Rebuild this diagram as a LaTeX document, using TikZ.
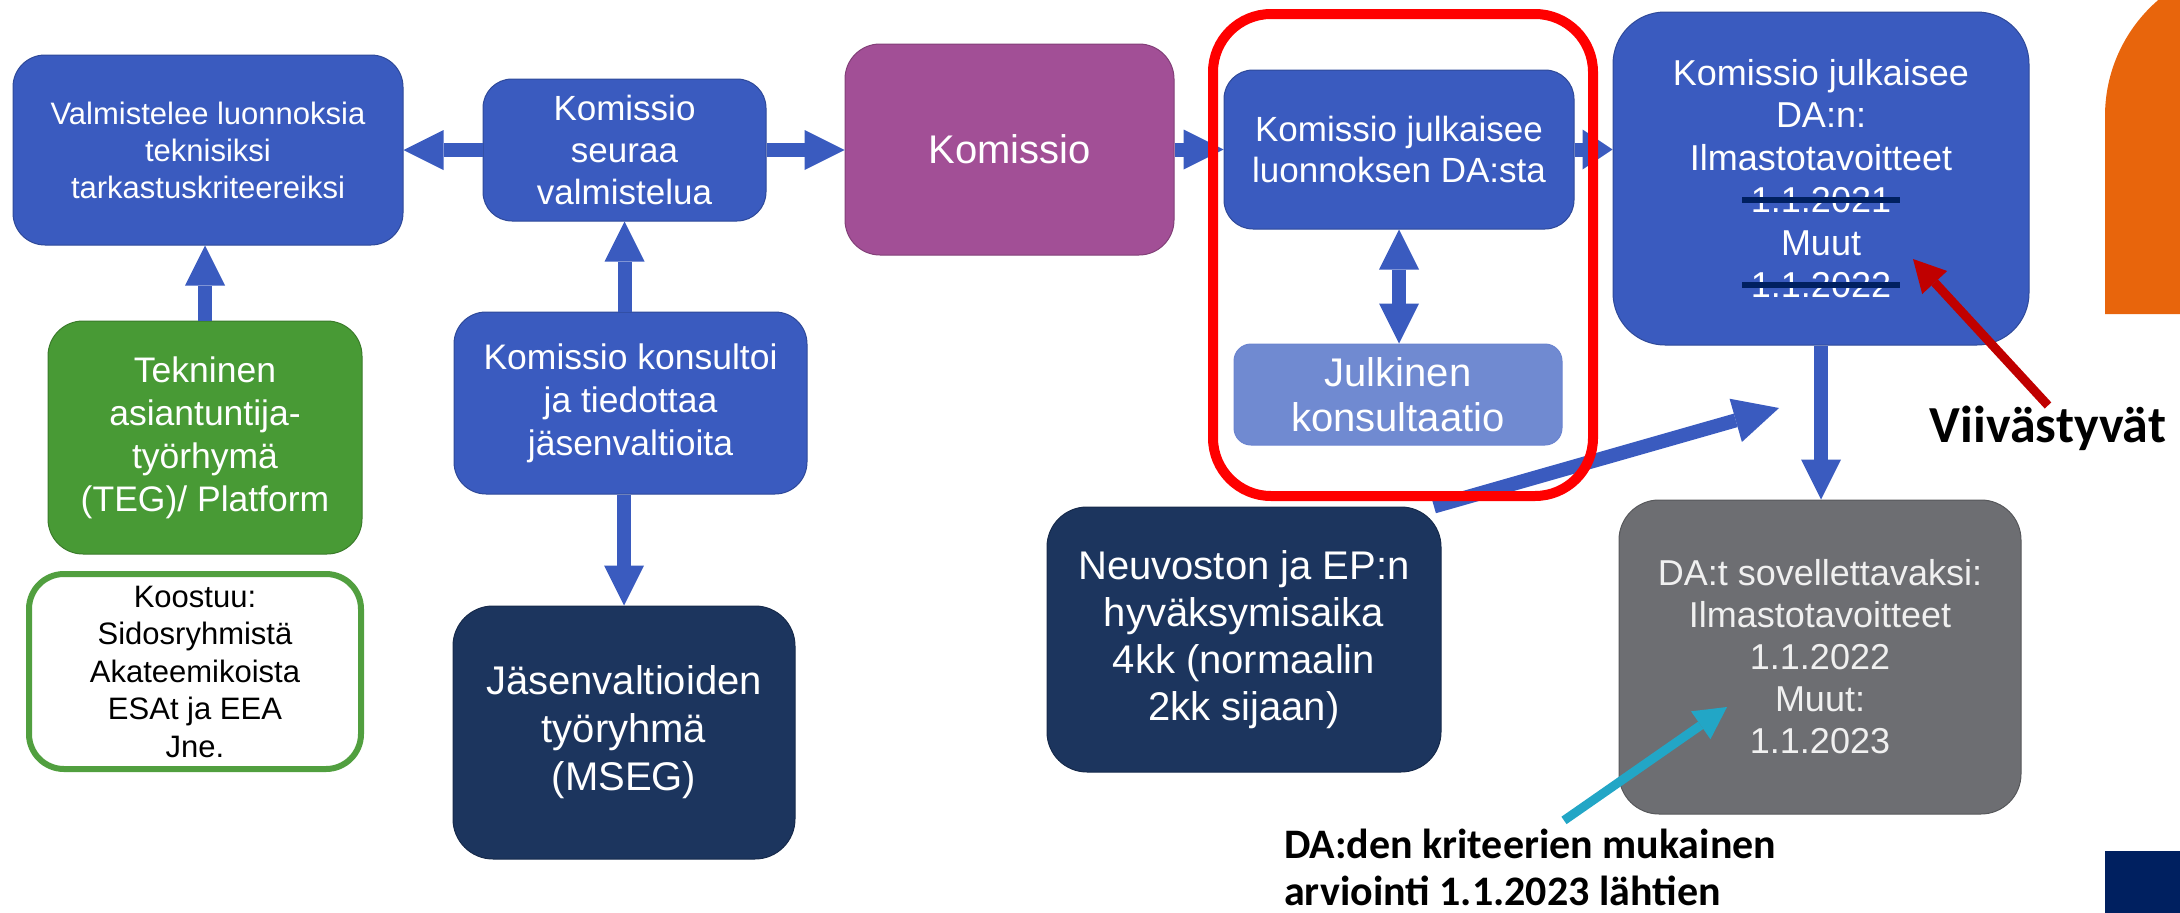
\documentclass[tikz,border=0pt]{standalone}
\usepackage{fontspec}
\setmainfont{Liberation Sans}
\newfontfamily\calibri{Carlito}
\usepackage{tikz}
\usetikzlibrary{arrows.meta,backgrounds}
\definecolor{boxblue}{HTML}{3A5BBF}
\definecolor{lightblue}{HTML}{708AD1}
\definecolor{komviolet}{HTML}{A24F96}
\definecolor{teggreen}{HTML}{489A35}
\definecolor{msegnavy}{HTML}{1C355E}
\definecolor{dagray}{HTML}{6D6E72}
\definecolor{framered}{HTML}{FF0000}
\definecolor{delayred}{HTML}{C00000}
\definecolor{evalcyan}{HTML}{22A6C6}
\definecolor{cornerorange}{HTML}{E8650C}
\definecolor{strikenavy}{HTML}{002060}
\newsavebox\strikebox
\newcommand\strikedate[1]{%
  \sbox\strikebox{#1}%
  \rlap{\usebox\strikebox}%
  \makebox[\wd\strikebox]{\makebox[0pt]{\textcolor{strikenavy}{\rule[0.28em]{\dimexpr\wd\strikebox+18pt\relax}{6pt}}}}}

\begin{document}
\begin{tikzpicture}[x=1pt,y=-1pt,
    flowbox/.style={rectangle,rounded corners=#1,align=center,inner sep=0pt,text=white,line width=1pt},
    flowbox/.default=32pt,
    bluebox/.style={flowbox=#1,fill=boxblue,draw=boxblue!80!black},
    bluebox/.default=32pt,
    blockarrow/.style={draw=boxblue,line width=14pt,-{Triangle[length=40pt,width=40pt,line width=0pt]}},
    notearrow/.style={line width=9pt,-{Triangle[length=32pt,width=34pt,line width=0pt]}},
    note/.style={font=\calibri\bfseries\fontsize{42}{47}\selectfont,inner sep=0pt}]
  \useasboundingbox (0,0) rectangle (2180,913);
  \clip (0,0) rectangle (2180,913);
  % corner decorations
  \fill[cornerorange] (2105,314) -- (2105,116) arc[start angle=180,end angle=270,radius=153] -- (2258,314) -- cycle;
  \fill[strikenavy] (2105,851) rectangle (2180,913);
  % left column
  \node (valm) at (208,150) [bluebox, minimum width=390pt, minimum height=190pt, font=\fontsize{31}{37}\selectfont] {Valmistelee luonnoksia\\teknisiksi\\tarkastuskriteereiksi};
  \node (teg) at (205,437.5) [flowbox=35pt, fill=teggreen, draw=teggreen!80!black, minimum width=314pt, minimum height=233pt, font=\fontsize{35.5}{43}\selectfont] {Tekninen\\asiantuntija-\\työrhymä\\(TEG)/ Platform};
  \node (koostuu) at (195,671.5) [flowbox=35pt, fill=white, draw=teggreen!95!white, line width=6pt, text=black, minimum width=332pt, minimum height=195pt, font=\fontsize{31}{37.5}\selectfont] {Koostuu:\\Sidosryhmistä\\Akateemikoista\\ESAt ja EEA\\Jne.};
  % middle column
  \node (seuraa) at (624.5,150) [bluebox=29pt, minimum width=283pt, minimum height=142pt, font=\fontsize{35}{42}\selectfont] {Komissio\\seuraa\\valmistelua};
  \node (konsult) at (630.5,403) [bluebox, minimum width=353pt, minimum height=182pt, font=\fontsize{35.5}{43}\selectfont] {Komissio konsultoi\\ja tiedottaa\\jäsenvaltioita};
  \node (mseg) at (624,732.5) [flowbox=40pt, fill=msegnavy, draw=msegnavy!80!black, minimum width=342pt, minimum height=253pt, font=\fontsize{40}{48}\selectfont] {Jäsenvaltioiden\\työryhmä\\(MSEG)};
  \node (komissio) at (1009.5,149.5) [flowbox=35pt, fill=komviolet, draw=komviolet!80!black, minimum width=329pt, minimum height=211pt, font=\fontsize{40}{47}\selectfont] {Komissio};
  % consultation
  \node (luonnos) at (1399,149.5) [bluebox=29pt, minimum width=350pt, minimum height=159pt, font=\fontsize{35}{41}\selectfont] {Komissio julkaisee\\luonnoksen DA:sta};
  \node (julkinen) at (1398,394.5) [flowbox=17pt, fill=lightblue, draw=boxblue!75!white, minimum width=328pt, minimum height=101pt, font=\fontsize{40}{45}\selectfont] {Julkinen\\konsultaatio};
  \node (neuvosto) at (1244,639.5) [flowbox=40pt, fill=msegnavy, draw=msegnavy!80!black, minimum width=394pt, minimum height=265pt, font=\fontsize{40}{47}\selectfont] {Neuvoston ja EP:n\\hyväksymisaika\\4kk (normaalin\\2kk sijaan)};
  % right column
  \node (julkaisu) at (1821,178.5) [bluebox=52pt, minimum width=416pt, minimum height=333pt, font=\fontsize{36}{42.5}\selectfont] {Komissio julkaisee\\DA:n:\\Ilmastotavoitteet\\\strikedate{1.1.2021}\\Muut\\\strikedate{1.1.2022}};
  \node (sovell) at (1820,657) [flowbox=40pt, fill=dagray, draw=dagray!80!black, text=white!94!black, minimum width=402pt, minimum height=314pt, font=\fontsize{36}{42}\selectfont] {DA:t sovellettavaksi:\\Ilmastotavoitteet\\1.1.2022\\Muut:\\1.1.2023};
  % notes
  \node (viiv) at (2048,428) [note, font=\calibri\bfseries\fontsize{52}{60}\selectfont] {Viivästyvät};
  \node (arvio) at (1284,867) [note, anchor=west, align=left] {DA:den kriteerien mukainen\\arviointi 1.1.2023 lähtien};
  \coordinate (neuvTip) at (1779,408);
  \coordinate (viivTip) at (1913,259);
  \coordinate (arvioTip) at (1727,707);
  % connectors
  \draw[blockarrow] (seuraa.west) -- (seuraa.west -| valm.east);
  \draw[blockarrow] (seuraa.east) -- (seuraa.east -| komissio.west);
  \draw[blockarrow] (komissio.east) -- (luonnos.west);
  \draw[blockarrow, -{Triangle[length=30pt,width=40pt,line width=0pt]}] (luonnos.east) -- (luonnos.east -| julkaisu.west);
  \draw[blockarrow] (teg.north) -- (teg.north |- valm.south);
  \draw[blockarrow] (konsult.north -| seuraa.south) -- (seuraa.south);
  \draw[blockarrow] (mseg.north |- konsult.south) -- (mseg.north);
  \draw[blockarrow, {Triangle[length=40pt,width=40pt,line width=0pt]}-{Triangle[length=40pt,width=40pt,line width=0pt]}] (luonnos.south) -- (luonnos.south |- julkinen.north);
  \draw[blockarrow] (julkaisu.south) -- (julkaisu.south |- sovell.north);
  \begin{scope}[on background layer]
    \draw[blockarrow, -{Triangle[length=45pt,width=45pt,line width=0pt]}] (neuvosto.35) -- (neuvTip);
  \end{scope}
  \node (kehys) at (1403,255) [rectangle, rounded corners=58pt, draw=framered, line width=10pt, minimum width=380pt, minimum height=482pt] {};
  \draw[notearrow, draw=delayred] (viiv.north) -- (viivTip);
  \draw[notearrow, draw=evalcyan, shorten <=14pt] (arvio.60) -- (arvioTip);
\end{tikzpicture}
\end{document}
